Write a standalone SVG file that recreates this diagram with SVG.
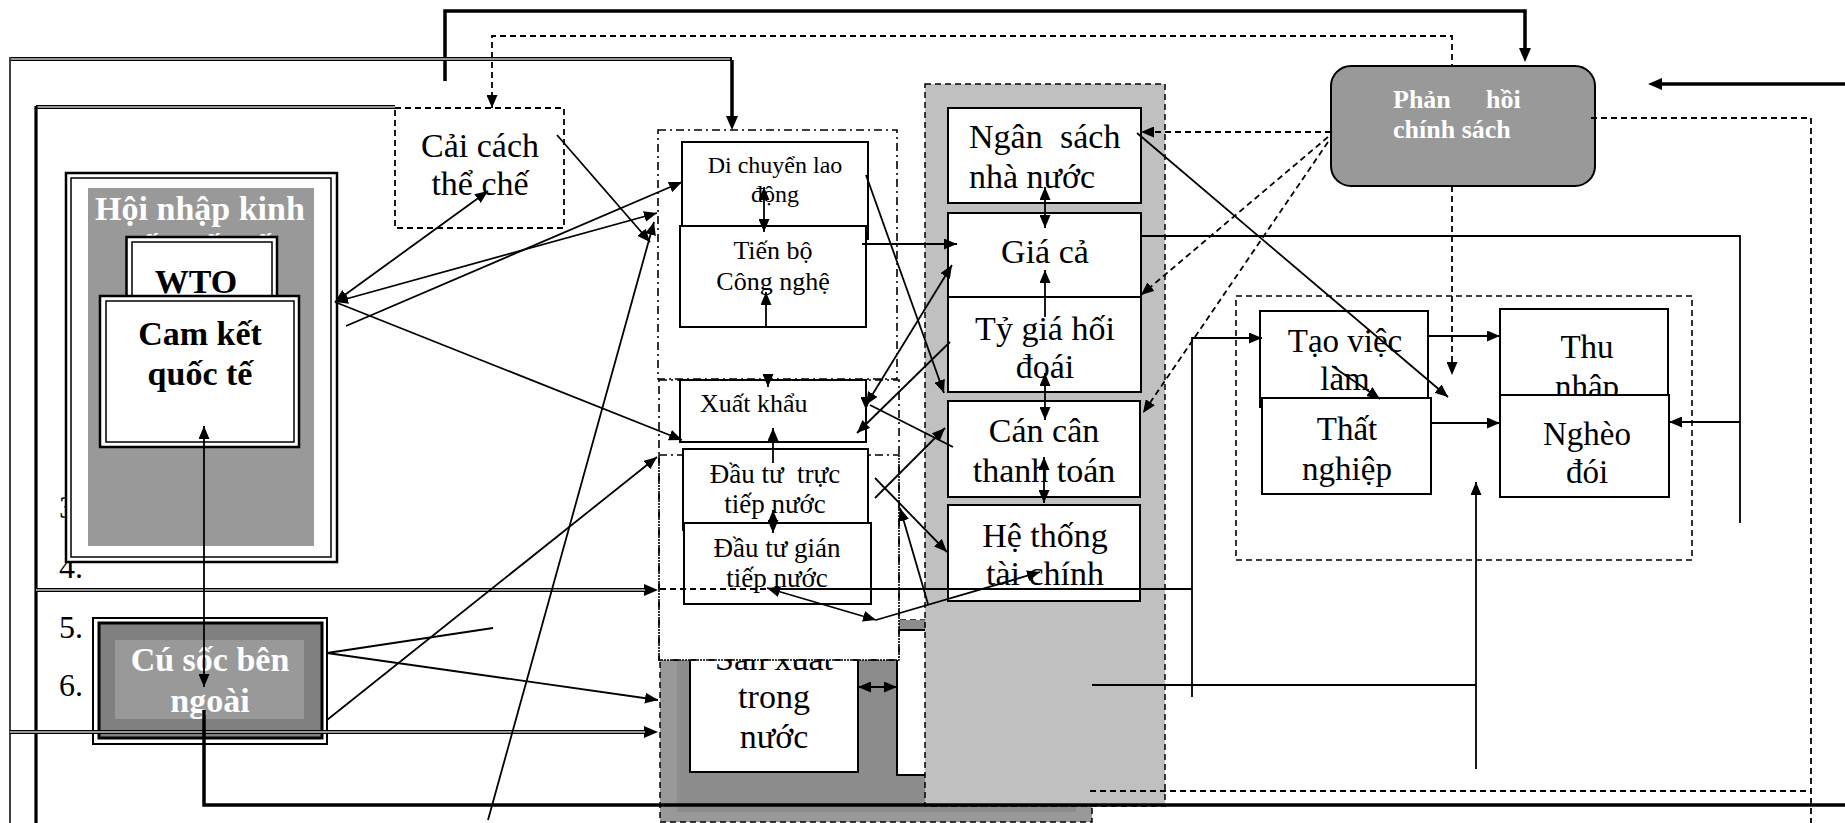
<svg xmlns="http://www.w3.org/2000/svg" width="1845" height="823" viewBox="0 0 1845 823">
<style>
.t{font-family:"Liberation Serif","Times New Roman",serif;fill:#000}
.b{font-weight:bold}
.w{fill:#fff}
.m{text-anchor:middle}
.box{fill:#fff;stroke:#000;stroke-width:2}
.ln{fill:none;stroke:#000;stroke-width:1.8}
.tk{fill:none;stroke:#000;stroke-width:3.5}
.dl{fill:none;stroke:#000;stroke-width:4}
.dg{fill:none;stroke:#c8c8c8;stroke-width:1.3}
.ds{stroke-dasharray:6 4}
.dd{stroke:#000;stroke-width:1.6;stroke-dasharray:8 4 2 4}
</style>
<defs>
<marker id="a" viewBox="0 0 13 11" refX="13" refY="5.5" markerWidth="13" markerHeight="11" markerUnits="userSpaceOnUse" orient="auto-start-reverse"><path d="M0,0L13,5.5L0,11z"/></marker>
<marker id="aT" viewBox="0 0 14 12" refX="4" refY="6" markerWidth="14" markerHeight="12" markerUnits="userSpaceOnUse" orient="auto-start-reverse"><path d="M0,0L14,6L0,12z"/></marker>
</defs>
<rect width="1845" height="823" fill="#fff"/>

<g id="numbers" class="t" font-size="32">
<text x="59" y="518">3.</text>
<text x="59" y="578">4.</text>
<text x="59" y="638">5.</text>
<text x="59" y="696">6.</text>
</g>

<g id="hoi-nhap">
<rect x="66" y="173" width="271" height="389" fill="#fff" stroke="#000" stroke-width="2.5"/>
<rect x="71" y="178" width="260" height="379" fill="none" stroke="#000" stroke-width="1.5"/>
<rect x="88" y="188" width="226" height="358" fill="#999"/>
<text class="t b w m" font-size="34" x="200" y="220">Hội nhập kinh</text>
<text class="t b w m" font-size="34" x="200" y="258">tế quốc tế</text>
</g>
<g id="wto">
<rect x="126.5" y="237" width="150.5" height="70" fill="#fff" stroke="#000" stroke-width="2.5"/>
<rect x="132" y="242" width="140" height="65" fill="none" stroke="#000" stroke-width="1.5"/>
<text class="t b m" font-size="34" x="196" y="293">WTO</text>
</g>
<g id="cam-ket">
<rect x="100" y="296" width="199" height="151" fill="#fff" stroke="#000" stroke-width="2.5"/>
<rect x="106" y="301" width="188" height="141" fill="none" stroke="#000" stroke-width="1.5"/>
<text class="t b m" font-size="34" x="200" y="345">Cam kết</text>
<text class="t b m" font-size="34" x="200" y="385">quốc tế</text>
</g>
<g id="cai-cach">
<rect x="395" y="108" width="169" height="120" fill="#fff" stroke="#000" stroke-width="1.8" stroke-dasharray="6 4"/>
<text class="t m" font-size="34" x="480" y="157">Cải cách</text>
<text class="t m" font-size="34" x="480" y="195">thể chế</text>
</g>
<g id="cu-soc">
<rect x="93" y="618" width="234" height="126" fill="#fff" stroke="#000" stroke-width="2"/>
<rect x="99" y="623" width="223" height="115" fill="#808080" stroke="#000" stroke-width="3"/>
<rect x="115" y="640" width="189" height="79" fill="#999"/>
<text class="t b w m" font-size="34" x="210" y="671">Cú sốc bên</text>
<text class="t b w m" font-size="34" x="210" y="712">ngoài</text>
</g>

<g id="san-xuat">
<rect x="660" y="620" width="432" height="202" fill="#999" stroke="#000" stroke-width="1.5" stroke-dasharray="6 4"/>
<rect x="677" y="620" width="399" height="192" fill="#8c8c8c"/>
<rect x="690" y="630" width="168" height="142" class="box"/>
<text class="t m" font-size="34" x="774" y="670">Sản xuất</text>
<text class="t m" font-size="34" x="774" y="708">trong</text>
<text class="t m" font-size="34" x="774" y="748">nước</text>
<rect x="897" y="630" width="30" height="145" class="box"/>
</g>
<g id="khoi-trung-gian">
<rect x="659" y="380" width="240" height="280" class="dd" style="fill:#fff"/>
<rect x="658" y="130" width="239" height="249" class="dd" style="fill:none"/>
<rect x="659" y="455" width="240" height="205" class="dd" style="fill:none"/>
</g>
<g id="di-chuyen">
<rect x="682" y="142" width="186" height="97" class="box"/>
<text class="t m" font-size="24" x="775" y="173">Di chuyển lao</text>
<text class="t m" font-size="24" x="775" y="202">động</text>
</g>
<g id="tien-bo">
<rect x="680" y="226" width="186" height="101" class="box"/>
<text class="t m" font-size="26" x="773" y="259">Tiến bộ</text>
<text class="t m" font-size="26" x="773" y="290">Công nghệ</text>
</g>
<g id="xuat-khau">
<rect x="680" y="380" width="186" height="62" class="box"/>
<text class="t" font-size="26" x="700" y="412">Xuất khẩu</text>
</g>
<g id="fdi">
<rect x="683" y="449" width="185" height="81" class="box"/>
<text class="t m" font-size="27" x="775" y="483" xml:space="preserve">Đầu tư  trực</text>
<text class="t m" font-size="27" x="775" y="513">tiếp nước</text>
</g>
<g id="fpi">
<rect x="684" y="523" width="187" height="81" class="box"/>
<text class="t m" font-size="27" x="777" y="557">Đầu tư gián</text>
<text class="t m" font-size="27" x="777" y="587">tiếp nước</text>
</g>

<g id="vi-mo">
<rect x="925" y="84" width="240" height="722" fill="#c0c0c0" stroke="#000" stroke-width="1.5" stroke-dasharray="6 4"/>
</g>
<g id="ngan-sach">
<rect x="948" y="108" width="193" height="95" class="box"/>
<text class="t" font-size="34"><tspan x="969" y="148">Ngân</tspan><tspan x="1060" y="148">sách</tspan><tspan x="969" y="188">nhà nước</tspan></text>
</g>
<g id="gia-ca">
<rect x="948" y="213" width="193" height="84" class="box"/>
<text class="t m" font-size="34" x="1045" y="263">Giá cả</text>
</g>
<g id="ty-gia">
<rect x="948" y="297" width="193" height="95" class="box"/>
<text class="t m" font-size="34" x="1045" y="340">Tỷ giá hối</text>
<text class="t m" font-size="34" x="1045" y="378">đoái</text>
</g>
<g id="can-can">
<rect x="948" y="401" width="192" height="96" class="box"/>
<text class="t m" font-size="34" x="1044" y="442">Cán cân</text>
<text class="t m" font-size="34" x="1044" y="482">thanh toán</text>
</g>
<g id="he-thong">
<rect x="948" y="505" width="192" height="96" class="box"/>
<text class="t m" font-size="34" x="1045" y="547">Hệ thống</text>
<text class="t m" font-size="34" x="1045" y="585">tài chính</text>
</g>

<g id="phan-hoi">
<rect x="1331" y="66" width="264" height="120" rx="20" ry="20" fill="#999" stroke="#000" stroke-width="2"/>
<text class="t b w" font-size="26"><tspan x="1393" y="108">Phản</tspan><tspan x="1486" y="108">hồi</tspan><tspan x="1393" y="138">chính sách</tspan></text>
</g>

<g id="ngheo-doi-khoi">
<rect x="1236" y="296" width="456" height="264" fill="none" stroke="#000" stroke-width="1.6" stroke-dasharray="6 4"/>
</g>
<g id="tao-viec">
<rect x="1260" y="311" width="168" height="96" class="box"/>
<text class="t m" font-size="33" x="1345" y="352">Tạo việc</text>
<text class="t m" font-size="33" x="1345" y="390">làm</text>
</g>
<g id="that-nghiep">
<rect x="1262" y="398" width="169" height="96" class="box"/>
<text class="t m" font-size="33" x="1347" y="440">Thất</text>
<text class="t m" font-size="33" x="1347" y="480">nghiệp</text>
</g>
<g id="thu-nhap">
<rect x="1500" y="309" width="168" height="96" class="box"/>
<text class="t m" font-size="33" x="1587" y="358">Thu</text>
<text class="t m" font-size="33" x="1587" y="398">nhập</text>
</g>
<g id="ngheo">
<rect x="1500" y="395" width="169" height="102" class="box"/>
<text class="t m" font-size="33" x="1587" y="445">Nghèo</text>
<text class="t m" font-size="33" x="1587" y="483">đói</text>
</g>

<g id="connectors">
<path class="tk" d="M445,81V11H1525V52" marker-end="url(#aT)"/>
<path class="ln ds" d="M492,108V36H1452V66" marker-start="url(#a)"/>
<path class="ln ds" d="M1452,186V375" marker-end="url(#a)"/>
<path class="dl" d="M11,59H732"/><path class="dg" d="M11,59H730"/>
<path class="tk" d="M732,60V120" marker-end="url(#aT)"/>
<path class="dl" d="M36,107H395"/><path class="dg" d="M36,107H395"/>
<path fill="none" stroke="#000" stroke-width="3.2" d="M36,106V823"/>
<path fill="none" stroke="#000" stroke-width="1.5" d="M10,57V823"/>
<path class="dl" d="M36,590H648" marker-end="url(#aT)"/><path class="dg" d="M36,590H645"/>
<path class="ln ds" d="M660,589H770"/>
<path class="ln" d="M770,589H1192"/>
<path class="dl" d="M10,732H648" marker-end="url(#aT)"/><path class="dg" d="M10,732H645"/>
<path class="tk" d="M204,710V805H1845"/>
<path class="ln" d="M204,426V687" marker-start="url(#a)" marker-end="url(#a)"/>
<path class="ln" d="M335,302L488,191" marker-start="url(#a)" marker-end="url(#a)"/>
<path class="ln" d="M335,302L657,213" marker-start="url(#a)" marker-end="url(#a)"/>
<path class="ln" d="M346,326L682,182" marker-end="url(#a)"/>
<path class="ln" d="M335,302L682,440" marker-end="url(#a)"/>
<path class="ln" d="M557,135L650,242" marker-end="url(#a)"/>
<path class="ln" d="M488,820L654,222" marker-end="url(#a)"/>
<path class="ln" d="M327,653L493,628"/>
<path class="ln" d="M327,653L658,700" marker-end="url(#a)"/>
<path class="ln" d="M327,720L657,457" marker-end="url(#a)"/>
<path class="ln" d="M764,187V232" marker-start="url(#a)" marker-end="url(#a)"/>
<path class="ln" d="M766,327V292" marker-end="url(#a)"/>
<path class="ln" d="M862,244H957" marker-end="url(#a)"/>
<path class="ln" d="M866,175L944,393" marker-end="url(#a)"/>
<path class="ln" d="M952,265L866,405" marker-start="url(#a)" marker-end="url(#a)"/>
<path class="ln" d="M950,342L857,433" marker-end="url(#a)"/>
<path class="ln" d="M953,447L870,405"/>
<path class="ln" d="M768,379V387" marker-end="url(#a)"/>
<path class="ln" d="M866,380V410" marker-end="url(#a)"/>
<path class="ln" d="M773,463V428" marker-end="url(#a)"/>
<path class="ln" d="M773,510V533" marker-start="url(#a)" marker-end="url(#a)"/>
<path class="ln" d="M875,498L945,428" marker-end="url(#a)"/>
<path class="ln" d="M875,478L947,552" marker-end="url(#a)"/>
<path class="ln" d="M876,620L767,588" marker-start="url(#a)" marker-end="url(#a)"/>
<path class="ln" d="M876,620L1040,572" marker-end="url(#a)"/>
<path class="ln" d="M928,604L900,508" marker-end="url(#a)"/>
<path class="ln" d="M1045,187V228" marker-start="url(#a)" marker-end="url(#a)"/>
<path class="ln" d="M1045,317V270" marker-end="url(#a)"/>
<path class="ln" d="M1045,373V420" marker-start="url(#a)" marker-end="url(#a)"/>
<path class="ln" d="M1044,457V503" marker-start="url(#a)" marker-end="url(#a)"/>
<path class="ln" d="M858,687H897" marker-start="url(#a)" marker-end="url(#a)"/>
<path class="ln ds" d="M1331,132H1141" marker-end="url(#a)"/>
<path class="ln ds" d="M1328,137L1141,295" marker-end="url(#a)"/>
<path class="ln ds" d="M1328,142L1143,413" marker-end="url(#a)"/>
<path class="ln ds" d="M1591,118H1811V823"/>
<path class="ln ds" d="M1090,791H1811"/>
<path class="tk" d="M1845,84H1658" marker-end="url(#aT)"/>
<path class="ln" d="M1140,236H1740V523"/>
<path class="ln" d="M1740,422H1669" marker-end="url(#a)"/>
<path class="ln" d="M1192,697V338H1262" marker-end="url(#a)"/>
<path class="ln" d="M1092,685H1476"/>
<path class="ln" d="M1476,769V482" marker-end="url(#a)"/>
<path class="ln" d="M1137,133L1448,397" marker-end="url(#a)"/>
<path class="ln" d="M1332,366L1380,399" marker-end="url(#a)"/>
<path class="ln" d="M1428,336H1500" marker-end="url(#a)"/>
<path class="ln" d="M1431,423H1500" marker-end="url(#a)"/>
</g>
</svg>
